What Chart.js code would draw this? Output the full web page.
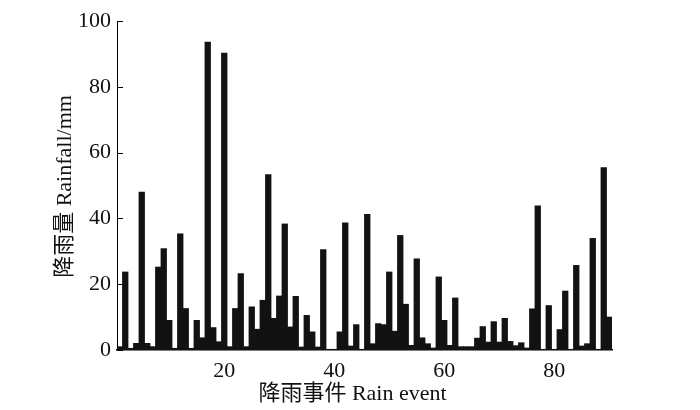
<!DOCTYPE html>
<html>
<head>
<meta charset="utf-8">
<script src="https://cdn.jsdelivr.net/npm/chart.js@4.4.1/dist/chart.umd.min.js"></script>
<style>
  html, body { margin: 0; padding: 0; background: #fff; }
  #wrap { position: relative; width: 700px; height: 410px; }
</style>
</head>
<body>
<div id="wrap"><canvas id="c" width="700" height="410"></canvas></div>
<script>
// ---- data ----
const rainfall = [
  1, 23.7, 0.5, 2, 48, 2, 1, 25.2, 30.8, 9,
  0.5, 35.3, 12.6, 0.5, 9, 3.7, 93.6, 6.8, 2.5, 90.2,
  1, 12.6, 23.2, 1, 13.1, 6.3, 15.1, 53.3, 9.6, 16.4,
  38.3, 7, 16.3, 0.9, 10.5, 5.5, 0.9, 30.5, 0.2, 0.2,
  5.5, 38.6, 1.2, 7.7, 0.2, 41.2, 1.9, 8, 7.7, 23.7,
  5.7, 34.8, 13.9, 1.4, 27.7, 3.7, 1.9, 0.6, 22.2, 9,
  1.4, 15.8, 1, 1, 1, 3.6, 7.1, 2.4, 8.6, 2.4,
  9.6, 2.6, 1.3, 2.2, 0.6, 12.5, 43.8, 0.2, 13.5, 0.2,
  6.2, 17.9, 0.2, 25.7, 1.2, 1.9, 33.9, 0.2, 55.4, 10
];
const events = rainfall.map((_, i) => i + 1);   // rain event numbers 1..90
const xTicks = [20, 40, 60, 80];
const yTicks = [0, 20, 40, 60, 80, 100];
const xTitle = '降雨事件 Rain event';
const yTitle = '降雨量 Rainfall/mm';

const FONT = '"Liberation Serif", "Noto Sans CJK SC", serif';

const titlesAndTicks = {
  id: 'titlesAndTicks',
  afterDraw(chart) {
    const { ctx, chartArea, scales } = chart;
    ctx.save();
    // inward tick marks on the y axis
    ctx.strokeStyle = '#000';
    ctx.lineWidth = 1;
    yTicks.forEach(v => {
      const y = Math.round(scales.y.getPixelForValue(v)) + 0.5;
      ctx.beginPath();
      ctx.moveTo(chartArea.left, y);
      ctx.lineTo(chartArea.left + 6, y);
      ctx.stroke();
    });
    // axis titles
    ctx.fillStyle = '#111';
    ctx.font = '22px ' + FONT;
    ctx.textAlign = 'center';
    ctx.textBaseline = 'middle';
    ctx.fillText(xTitle, (chartArea.left + chartArea.right) / 2 - 12, chartArea.bottom + 44);
    ctx.translate(chartArea.left - 52, (chartArea.top + chartArea.bottom) / 2 + 1);
    ctx.rotate(-Math.PI / 2);
    ctx.fillText(yTitle, 0, 0);
    ctx.restore();
  }
};

new Chart(document.getElementById('c'), {
  type: 'bar',
  data: {
    labels: events,
    datasets: [{
      data: rainfall,
      backgroundColor: '#121212',
      borderWidth: 0,
      barPercentage: 1,
      categoryPercentage: 1,
      inflateAmount: 0.4
    }]
  },
  options: {
    responsive: false,
    animation: false,
    devicePixelRatio: 1,
    layout: { padding: { left: 0, right: 88, top: 21, bottom: 0 } },
    plugins: { legend: { display: false }, tooltip: { enabled: false } },
    scales: {
      x: {
        type: 'linear',
        min: 0.5,
        max: 90.5,
        offset: false,
        afterBuildTicks: s => { s.ticks = xTicks.map(v => ({ value: v })); },
        afterFit: s => { s.height = 60; },
        grid: { display: false, drawTicks: false },
        border: { display: true, color: '#000', width: 1.5 },
        ticks: {
          color: '#111',
          padding: 8,
          font: { family: FONT, size: 22 },
          maxRotation: 0,
          autoSkip: false
        }
      },
      y: {
        min: 0,
        max: 100,
        afterBuildTicks: s => { s.ticks = yTicks.map(v => ({ value: v })); },
        afterFit: s => { s.width = 117; },
        grid: { display: false, drawTicks: false },
        border: { display: true, color: '#000', width: 1 },
        ticks: {
          color: '#111',
          padding: 6,
          font: { family: FONT, size: 22 }
        }
      }
    }
  },
  plugins: [titlesAndTicks]
});
</script>
</body>
</html>
